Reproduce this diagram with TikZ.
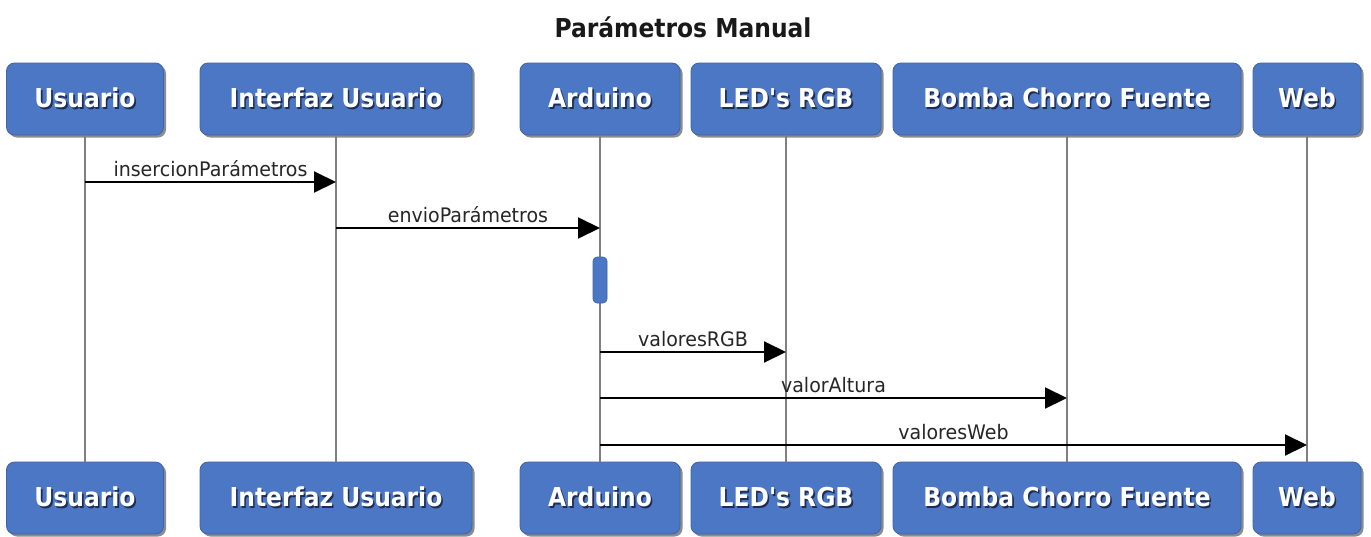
\documentclass[tikz,border=0pt]{standalone}
\usepackage{fontspec}
\usetikzlibrary{arrows.meta,shadows}
\newfontfamily\boxfont[FakeStretch=0.9]{DejaVu Sans Bold}
\newfontfamily\lblfont[FakeStretch=0.95]{DejaVu Sans}
\definecolor{boxblue}{HTML}{4C77C4}
\definecolor{boxedge}{HTML}{3E64A8}
\definecolor{txtshadow}{HTML}{1E2D55}
\definecolor{lifegray}{HTML}{808080}
\newcommand\shadowtext[1]{\makebox[0pt][l]{\hspace{1.6pt}\raisebox{-1.6pt}{\color{txtshadow}#1}}#1}
\tikzset{
  actor/.style={draw=boxedge, line width=0.8pt, fill=boxblue, rounded corners=8pt,
    minimum height=72pt, inner sep=0pt, text=white,
    font=\boxfont\fontsize{26pt}{30pt}\selectfont,
    drop shadow={shadow xshift=2.5pt, shadow yshift=-2.5pt, opacity=0.45, fill=black}},
  lifeline/.style={draw=lifegray, line width=1.6pt},
  msg/.style={draw=black, line width=2pt, -{Triangle[length=22pt,width=21pt]}},
  lbl/.style={font=\lblfont\fontsize{20pt}{24pt}\selectfont, text=black!85, inner sep=0pt, anchor=base},
  actbox/.style={draw=boxedge, line width=0.6pt, fill=boxblue, rounded corners=4pt,
    minimum width=14pt, minimum height=46pt, inner sep=0pt}
}
\begin{document}
\begin{tikzpicture}[x=1pt,y=-1pt]
\useasboundingbox[fill=white] (0,0) rectangle (1371,536);
% title
\node[font=\boxfont\fontsize{26pt}{30pt}\selectfont, text=black!90, anchor=base] (title) at (683,37) {Parámetros Manual};
% top actors
\node[actor, minimum width=157pt] (uT) at (85,99) {\shadowtext{Usuario}};
\node[actor, minimum width=272pt] (iT) at (336,99) {\shadowtext{Interfaz Usuario}};
\node[actor, minimum width=160pt] (aT) at (600,99) {\shadowtext{Arduino}};
\node[actor, minimum width=190pt] (lT) at (786,99) {\shadowtext{LED's RGB}};
\node[actor, minimum width=348pt] (bT) at (1067,99) {\shadowtext{Bomba Chorro Fuente}};
\node[actor, minimum width=108pt] (wT) at (1307,99) {\shadowtext{Web}};
% bottom actors
\node[actor, minimum width=157pt] (uB) at (85,498) {\shadowtext{Usuario}};
\node[actor, minimum width=272pt] (iB) at (336,498) {\shadowtext{Interfaz Usuario}};
\node[actor, minimum width=160pt] (aB) at (600,498) {\shadowtext{Arduino}};
\node[actor, minimum width=190pt] (lB) at (786,498) {\shadowtext{LED's RGB}};
\node[actor, minimum width=348pt] (bB) at (1067,498) {\shadowtext{Bomba Chorro Fuente}};
\node[actor, minimum width=108pt] (wB) at (1307,498) {\shadowtext{Web}};
% lifelines
\draw[lifeline] (uT.south) -- (uB.north);
\draw[lifeline] (iT.south) -- (iB.north);
\draw[lifeline] (aT.south) -- (aB.north);
\draw[lifeline] (lT.south) -- (lB.north);
\draw[lifeline] (bT.south) -- (bB.north);
\draw[lifeline] (wT.south) -- (wB.north);
% activation
\node[actbox] (act) at (600,280) {};
% message rows
\coordinate (m1) at (0,182);
\coordinate (m2) at (0,228);
\coordinate (m3) at (0,352);
\coordinate (m4) at (0,398);
\coordinate (m5) at (0,445);
\draw[msg] (uT |- m1) -- (iT |- m1) node[lbl, midway, yshift=6pt] (t1) {insercionParámetros};
\draw[msg] (iT |- m2) -- (aT |- m2) node[lbl, midway, yshift=6pt] (t2) {envioParámetros};
\draw[msg] (aT |- m3) -- (lT |- m3) node[lbl, midway, yshift=6pt] (t3) {valoresRGB};
\draw[msg] (aT |- m4) -- (bT |- m4) node[lbl, midway, yshift=6pt] (t4) {valorAltura};
\draw[msg] (aT |- m5) -- (wT |- m5) node[lbl, midway, yshift=6pt] (t5) {valoresWeb};
\end{tikzpicture}
\end{document}
